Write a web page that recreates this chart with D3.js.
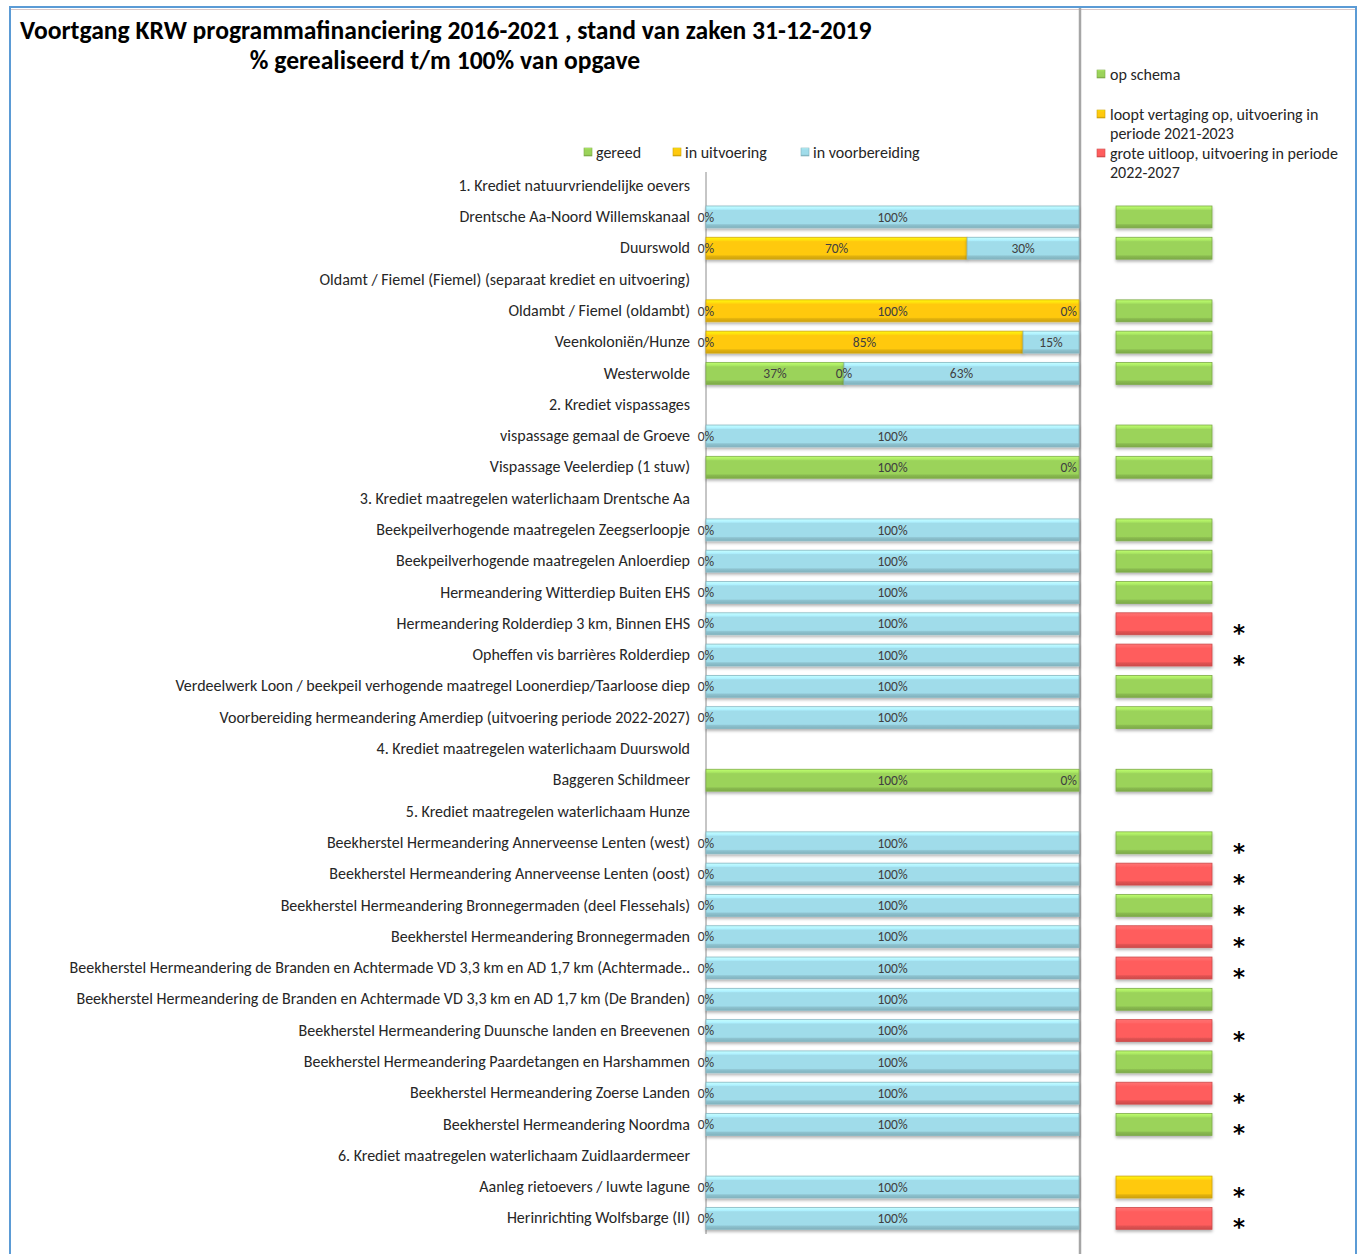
<!DOCTYPE html>
<html>
<head>
<meta charset="utf-8">
<script src="https://cdn.jsdelivr.net/npm/d3@7"></script>
<style>
  body { margin: 0; background: #fff; }
  text { font-family: Carlito, Lato, sans-serif; }
</style>
</head>
<body>
<div id="chart"></div>
<script>
// categorieën (kopregels hebben geen balk)
const categories = [
  "1. Krediet natuurvriendelijke oevers",
  "Drentsche Aa-Noord Willemskanaal",
  "Duurswold",
  "Oldamt / Fiemel (Fiemel) (separaat krediet en uitvoering)",
  "Oldambt / Fiemel (oldambt)",
  "Veenkoloniën/Hunze",
  "Westerwolde",
  "2. Krediet vispassages",
  "vispassage gemaal de Groeve",
  "Vispassage Veelerdiep (1 stuw)",
  "3. Krediet maatregelen waterlichaam Drentsche Aa",
  "Beekpeilverhogende maatregelen Zeegserloopje",
  "Beekpeilverhogende maatregelen Anloerdiep",
  "Hermeandering Witterdiep Buiten EHS",
  "Hermeandering Rolderdiep 3 km, Binnen EHS",
  "Opheffen vis barrières Rolderdiep",
  "Verdeelwerk Loon / beekpeil verhogende maatregel Loonerdiep/Taarloose diep",
  "Voorbereiding hermeandering Amerdiep (uitvoering periode 2022-2027)",
  "4. Krediet maatregelen waterlichaam Duurswold",
  "Baggeren Schildmeer",
  "5. Krediet maatregelen waterlichaam Hunze",
  "Beekherstel Hermeandering Annerveense Lenten (west)",
  "Beekherstel Hermeandering Annerveense Lenten (oost)",
  "Beekherstel Hermeandering Bronnegermaden (deel Flessehals)",
  "Beekherstel Hermeandering Bronnegermaden",
  "Beekherstel Hermeandering de Branden en Achtermade VD 3,3 km en AD 1,7 km (Achtermade..",
  "Beekherstel Hermeandering de Branden en Achtermade VD 3,3 km en AD 1,7 km (De Branden)",
  "Beekherstel Hermeandering Duunsche landen en Breevenen",
  "Beekherstel Hermeandering Paardetangen en Harshammen",
  "Beekherstel Hermeandering Zoerse Landen",
  "Beekherstel Hermeandering Noordma",
  "6. Krediet maatregelen waterlichaam Zuidlaardermeer",
  "Aanleg rietoevers / luwte lagune",
  "Herinrichting Wolfsbarge (II)"
];

// percentages per reeks
const gereed =        [null,0,0,null,0,0,37,null,0,100,null,0,0,0,0,0,0,0,null,100,null,0,0,0,0,0,0,0,0,0,0,null,0,0];
const inUitvoering =  [null,0,70,null,100,85,0,null,0,0,null,0,0,0,0,0,0,0,null,0,null,0,0,0,0,0,0,0,0,0,0,null,0,0];
const inVoorbereiding=[null,100,30,null,0,15,63,null,100,0,null,100,100,100,100,100,100,100,null,0,null,100,100,100,100,100,100,100,100,100,100,null,100,100];

// status rechts: g = op schema, y = vertraging, r = grote uitloop
const status = [null,"g","g",null,"g","g","g",null,"g","g",null,"g","g","g","r","r","g","g",null,"g",null,"g","r","g","r","r","g","r","g","r","g",null,"y","r"];
const sterretje = [0,0,0,0,0,0,0,0,0,0,0,0,0,0,1,1,0,0,0,0,0,1,1,1,1,1,0,1,0,1,1,0,1,1];

const seriesNames = ["gereed", "in uitvoering", "in voorbereiding"];
const statusNames = ["op schema", "loopt vertaging op, uitvoering in|periode 2021-2023", "grote uitloop, uitvoering in periode|2022-2027"];

const width = 1363, height = 1254;
const colors = { g: "#9bd35a", y: "#ffc90e", b: "#a0dcea", r: "#ff5d5d" };
const seriesColors = [colors.g, colors.y, colors.b];
const labelSize = 16;

const svg = d3.select("#chart").append("svg")
  .attr("width", width).attr("height", height);

const defs = svg.append("defs");
// bevel-achtige gradient per kleur
Object.entries(colors).forEach(([k, c]) => {
  const base = d3.color(c);
  const grad = defs.append("linearGradient").attr("id", "grad-" + k)
    .attr("x1", 0).attr("y1", 0).attr("x2", 0).attr("y2", 1);
  grad.append("stop").attr("offset", "0").attr("stop-color", base.brighter(0.6));
  grad.append("stop").attr("offset", "0.14").attr("stop-color", base.brighter(0.25));
  grad.append("stop").attr("offset", "0.2").attr("stop-color", base);
  grad.append("stop").attr("offset", "0.8").attr("stop-color", base);
  grad.append("stop").attr("offset", "0.86").attr("stop-color", base.darker(0.35));
  grad.append("stop").attr("offset", "1").attr("stop-color", base.darker(0.6));
});
const shadow = defs.append("filter").attr("id", "shadow")
  .attr("x", "-5%").attr("y", "-20%").attr("width", "110%").attr("height", "160%");
shadow.append("feDropShadow").attr("dx", 0).attr("dy", 2).attr("stdDeviation", 1.5)
  .attr("flood-color", "#000").attr("flood-opacity", 0.3);

// rand
svg.append("line").attr("x1", 10).attr("x2", 1357).attr("y1", 7).attr("y2", 7)
  .attr("stroke", "#5b9bd5").attr("stroke-width", 2);
svg.append("line").attr("x1", 10).attr("x2", 1357).attr("y1", 9.5).attr("y2", 9.5)
  .attr("stroke", "#d9c8c8").attr("stroke-width", 1);
svg.append("line").attr("x1", 10).attr("x2", 10).attr("y1", 6).attr("y2", height)
  .attr("stroke", "#5b9bd5").attr("stroke-width", 2);
svg.append("line").attr("x1", 1356).attr("x2", 1356).attr("y1", 6).attr("y2", height)
  .attr("stroke", "#5b9bd5").attr("stroke-width", 2);
svg.append("line").attr("x1", 1080).attr("x2", 1080).attr("y1", 8).attr("y2", height)
  .attr("stroke", "#a6a6a6").attr("stroke-width", 2.5);

// titel
svg.append("text").attr("x", 20).attr("y", 39)
  .attr("font-size", 25.6).attr("font-weight", "bold").attr("fill", "#000")
  .text("Voortgang KRW programmafinanciering 2016-2021 , stand van zaken 31-12-2019");
svg.append("text").attr("x", 445).attr("y", 69).attr("text-anchor", "middle")
  .attr("font-size", 25.6).attr("font-weight", "bold").attr("fill", "#000")
  .text("% gerealiseerd t/m 100% van opgave");

// schalen
const y = d3.scaleBand().domain(categories).range([170, 1234]).paddingInner(0.3).paddingOuter(0.15);
const x = d3.scaleLinear().domain([0, 100]).range([706, 1079]);

// as met categorie-labels
const yAxis = svg.append("g").attr("transform", "translate(706,0)")
  .call(d3.axisLeft(y).tickSize(0).tickPadding(16));
yAxis.select(".domain").attr("stroke", "#8c8c8c").attr("d", "M0,172V1234");
yAxis.selectAll("text").attr("font-size", labelSize).attr("fill", "#262626");

// gestapelde balken
const rows = categories.map((c, i) => ({ cat: c, values: [gereed[i], inUitvoering[i], inVoorbereiding[i]] }))
  .filter(d => d.values[0] !== null);
const stack = d3.stack().keys([0, 1, 2]).value((d, k) => d.values[k]);
const stacked = stack(rows);

const keyOf = ["g", "y", "b"];
stacked.forEach((layer, k) => {
  svg.append("g").selectAll("rect").data(layer.filter(d => d[1] > d[0])).join("rect")
    .attr("x", d => x(d[0]))
    .attr("y", d => y(d.data.cat))
    .attr("width", d => x(d[1]) - x(d[0]))
    .attr("height", y.bandwidth())
    .attr("fill", "url(#grad-" + keyOf[k] + ")")
    .attr("stroke", d3.color(seriesColors[k]).darker(0.5))
    .attr("stroke-width", 0.8)
    .attr("filter", "url(#shadow)");
});

// data labels (dubbele posities maar één keer)
const labels = [];
rows.forEach(r => {
  let acc = 0;
  const seen = new Set();
  r.values.forEach(v => {
    const cx = Math.round(x(acc + v / 2));
    if (!seen.has(cx)) {
      seen.add(cx);
      labels.push({ cat: r.cat, cx: x(acc + v / 2), t: v + "%" });
    }
    acc += v;
  });
});
svg.append("g").selectAll("text").data(labels).join("text")
  .attr("x", d => d.cx)
  .attr("y", d => y(d.cat) + y.bandwidth() / 2)
  .attr("dy", "0.35em")
  .attr("text-anchor", d => d.cx > 1070 ? "end" : "middle")
  .attr("dx", d => d.cx > 1070 ? -2 : 0)
  .attr("font-size", 13.5).attr("fill", "#404040")
  .text(d => d.t);

// status balken rechts
const statusData = categories.map((c, i) => ({ cat: c, s: status[i], star: sterretje[i] })).filter(d => d.s);
const sx = d3.scaleLinear().domain([0, 1]).range([1116, 1212]);
svg.append("g").selectAll("rect").data(statusData).join("rect")
  .attr("x", sx(0))
  .attr("y", d => y(d.cat))
  .attr("width", sx(1) - sx(0))
  .attr("height", y.bandwidth())
  .attr("fill", d => "url(#grad-" + d.s + ")")
  .attr("stroke", d => d3.color(colors[d.s]).darker(0.6))
  .attr("stroke-width", 0.8)
  .attr("filter", "url(#shadow)");
svg.append("g").selectAll("text").data(statusData.filter(d => d.star)).join("text")
  .attr("x", 1239)
  .attr("y", d => y(d.cat) + y.bandwidth() / 2 + 17)
  .attr("text-anchor", "middle")
  .style("font-family", "'DejaVu Sans', sans-serif")
  .attr("font-size", 23).attr("font-weight", "bold").attr("fill", "#000")
  .text("*");

// legenda boven
const legendX = [588, 677, 805];
seriesNames.forEach((n, k) => {
  const g = svg.append("g").attr("transform", `translate(${legendX[k]},152)`);
  g.append("rect").attr("x", -4).attr("y", -4).attr("width", 8).attr("height", 8)
    .attr("fill", "url(#grad-" + keyOf[k] + ")").attr("stroke", d3.color(seriesColors[k]).darker(0.6)).attr("stroke-width", 0.6);
  g.append("text").attr("x", 8).attr("dy", "0.35em").attr("font-size", labelSize).attr("fill", "#262626").text(n);
});

// legenda rechts
const statusKeys = ["g", "y", "r"];
const statusY = [74, 114, 153];
statusNames.forEach((n, k) => {
  const g = svg.append("g").attr("transform", `translate(1101,${statusY[k]})`);
  g.append("rect").attr("x", -4).attr("y", -4).attr("width", 8).attr("height", 8)
    .attr("fill", "url(#grad-" + statusKeys[k] + ")").attr("stroke", d3.color(colors[statusKeys[k]]).darker(0.6)).attr("stroke-width", 0.6);
  const t = g.append("text").attr("font-size", labelSize).attr("fill", "#262626");
  n.split("|").forEach((line, j) => {
    t.append("tspan").attr("x", 9).attr("y", j * 19).attr("dy", "0.35em").text(line);
  });
});
</script>
</body>
</html>
